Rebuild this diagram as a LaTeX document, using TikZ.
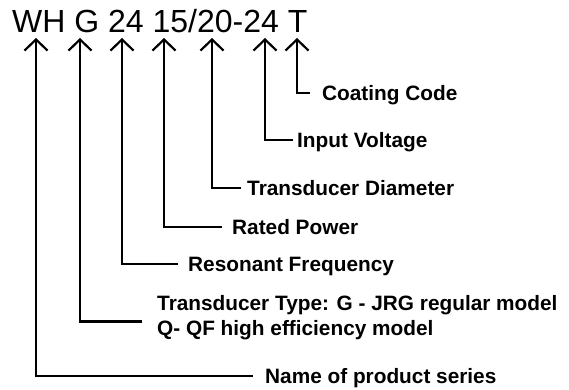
\documentclass[tikz,border=0pt]{standalone}
\usepackage{fontspec}
\setmainfont{Liberation Sans}
\usetikzlibrary{arrows.meta}

\begin{document}
\begin{tikzpicture}[
    x=1pt, y=-1pt,
    arrow/.style={-{Straight Barb[length=11pt,width=23pt]}, line width=2.2pt},
    desc/.style={inner sep=0pt, font=\fontsize{20.8}{25}\selectfont\bfseries},
    oneline/.style={desc, anchor=west, text height=14.5pt, text depth=0pt},
    code/.style={anchor=base west, inner sep=0pt, font=\fontsize{32}{36}\selectfont}
]
\useasboundingbox (0,0) rectangle (569,390);

% ==========================================
% CODIGO DEL PRODUCTO
% ==========================================
\node[code] (pn) at (12,33) {WH G 24 15/20-24 T};

\coordinate (tWH) at (36,38);
\coordinate (tG)  at (80,38);
\coordinate (tF)  at (122,38);
\coordinate (tP)  at (164,38);
\coordinate (tD)  at (212,38);
\coordinate (tV)  at (265,38);
\coordinate (tT)  at (297,38);

% ==========================================
% SIGNIFICADO DE CADA PARTE
% ==========================================
\node[oneline] (lT)  at (322,93)  {Coating Code};
\node[oneline] (lV)  at (297,140) {Input Voltage};
\node[oneline] (lD)  at (247,188) {Transducer Diameter};
\node[oneline] (lP)  at (232,227) {Rated Power};
\node[oneline] (lF)  at (188,264) {Resonant Frequency};
\node[desc, anchor=north west, align=left] (lG) at (157,295) {Transducer Type: G - JRG regular model\\Q- QF high efficiency model};
\node[oneline] (lWH) at (265,376) {Name of product series};

\foreach \l/\t/\g in {lT/tT/12, lV/tV/4, lD/tD/6, lP/tP/10, lF/tF/10, lWH/tWH/12} {
    \draw[arrow] ([xshift=-\g pt]\l.west) -| (\t);
}
\draw[arrow] ([xshift=-15pt,yshift=-4pt]lG.west) -| (tG);

\end{tikzpicture}
\end{document}
